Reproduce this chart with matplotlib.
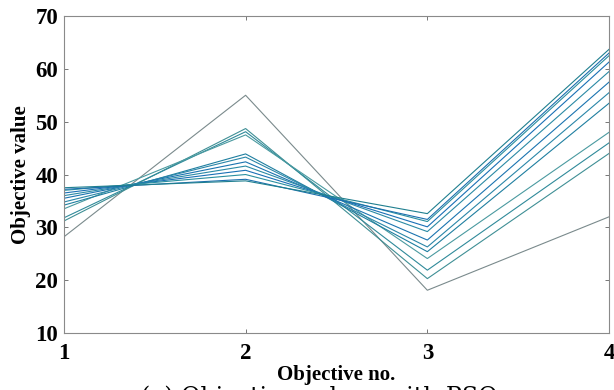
import numpy as np
import matplotlib.pyplot as plt

# objective values of the Pareto solutions (one line per solution)
objectives = [1, 2, 3, 4]
obj1 = [28.2, 31.2, 31.8, 33.5, 34.2, 34.8, 35.5, 36.0, 36.5, 37.0, 37.2, 37.5]
obj2 = [55.0, 48.7, 48.1, 47.5, 43.9, 43.3, 42.4, 41.6, 40.8, 40.0, 39.1, 38.8]
obj3 = [18.1, 20.3, 21.9, 24.1, 25.4, 26.3, 27.6, 29.2, 30.1, 31.1, 31.5, 32.6]
obj4 = [32.0, 44.0, 46.0, 48.0, 53.5, 55.5, 57.5, 59.5, 61.3, 62.5, 63.0, 63.7]

colors = ['#7a8a8c', '#3f8f95', '#2f8a9a', '#4a9aa0', '#1f7fa0', '#2a86a8',
          '#1b74b0', '#2b8aa5', '#1a70b5', '#2a8fa0', '#1c6fae', '#1f7f8f']

plt.rcParams['font.family'] = 'Liberation Serif'

fig = plt.figure(figsize=(6.14, 3.9), dpi=100)
ax = fig.add_axes([0.104, 0.146, 0.888, 0.813])

vals = np.array([obj1, obj2, obj3, obj4])
for i in range(vals.shape[1]):
    ax.plot(objectives, vals[:, i], color=colors[i], lw=0.8)

ax.set_xlim(1, 4)
ax.set_ylim(10, 70)
ax.set_xticks(objectives)
ax.set_yticks(range(10, 71, 10))
ax.tick_params(direction='in', length=3, width=0.6, color='#606060',
               top=True, right=True, labelsize=16.5)
ax.tick_params(axis='x', pad=7)
ax.tick_params(axis='y', pad=4)
for lbl in ax.get_xticklabels() + ax.get_yticklabels():
    lbl.set_fontweight('bold')
for s in ax.spines.values():
    s.set_color('#8a8a8a')
    s.set_linewidth(0.8)

ax.set_xlabel('Objective no.', fontsize=15, fontweight='bold', labelpad=1)
ax.set_ylabel('Objective value', fontsize=15, fontweight='bold', labelpad=3)

# caption sits mostly below the picture edge, as in the reference
fig.text(0.52, 0.012, '(a) Objective values with PSO', fontsize=17,
         ha='center', va='top', family='DejaVu Serif')

fig.savefig('out.png', dpi=100)
